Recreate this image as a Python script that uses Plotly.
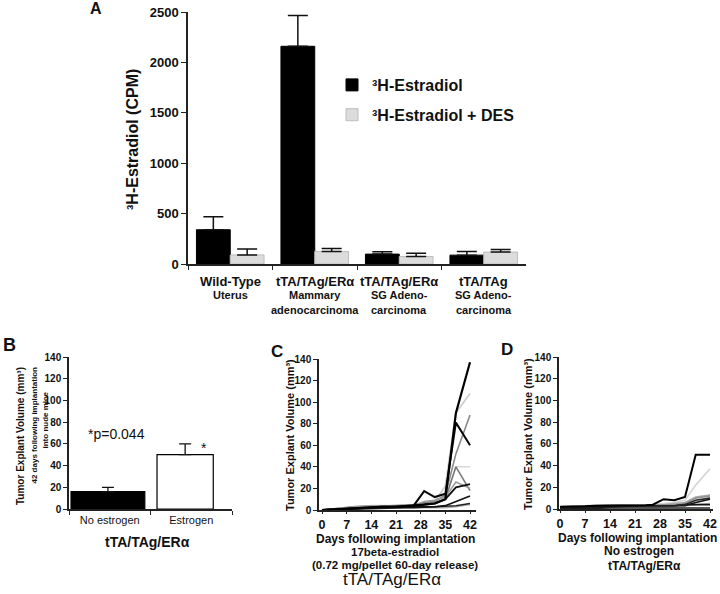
import plotly.graph_objects as go

# ---------------- DATA ----------------
# Panel A
catsA = ["Wild-Type", "tTA/TAg/ERα mammary", "tTA/TAg/ERα SG", "tTA/TAg SG"]
labA_line1 = ["Wild-Type", "tTA/TAg/ERα", "tTA/TAg/ERα", "tTA/TAg"]
labA_line2 = ["Uterus", "Mammary", "SG Adeno-", "SG Adeno-"]
labA_line3 = ["", "adenocarcinoma", "carcinoma", "carcinoma"]
estradiol = [340, 2160, 98, 88]
estradiol_err = [128, 305, 24, 36]
estradiol_des = [90, 125, 74, 118]
estradiol_des_err = [58, 28, 32, 27]
yticksA = [0, 500, 1000, 1500, 2000, 2500]

# Panel B
catsB = ["No estrogen", "Estrogen"]
volB = [16, 50]
volB_err = [4, 10]

# Panels C and D: days of measurement
days = [0, 3, 7, 10, 14, 17, 21, 24, 26, 29, 32, 35, 38, 42]
xticksCD = [0, 7, 14, 21, 28, 35, 42]
yticksCD = [0, 20, 40, 60, 80, 100, 120, 140]

# Panel C: 17beta-estradiol treated explants
c_lt_grey_107 = [0, 1, 2, 3, 4, 4, 4, 4, 5, 6, 8, 22, 90, 108]
c_grey_88 = [0, 1, 2, 3, 3, 3.5, 4, 4, 5, 7, 8, 14, 52, 88]
c_lt_grey_40 = [0, 1, 2, 3, 3, 3, 3, 3.5, 4, 6, 7, 12, 40, 40]
c_grey_40 = [0, 1, 2, 3, 3.5, 3.5, 4, 4, 4, 6, 7, 10, 40, 18]
c_grey_mid = [0, 1, 2.5, 3.5, 3.5, 3.5, 3.5, 3.5, 4, 8, 9, 12, 26, 20]
c_grey_5 = [0, 0.5, 1, 1.5, 2, 2, 2, 2, 2, 2, 2, 2, 3, 5]
c_black_137 = [0, 0.5, 1, 2, 2.5, 3, 3, 3.5, 4, 5, 6, 10, 90, 137]
c_black_81 = [0, 0.5, 1, 2, 2.5, 3, 3, 3.5, 4, 17.5, 12, 15, 81, 60]
c_black_24 = [0, 0.5, 1, 1.5, 2, 2.5, 3, 3, 3, 5, 6, 10, 21, 24]
c_black_13 = [0, 0.5, 1, 1.5, 2, 2.5, 3, 3, 3, 3, 3, 4, 8, 13]
c_black_low = [0, 0.3, 0.6, 1, 1.5, 2, 2, 2, 2, 2.5, 3, 3, 4, 6]

# Panel D: no estrogen
d_black_50 = [2, 2, 2.5, 3, 3, 3, 3, 3.5, 4, 9, 8, 11, 50, 50]
d_lt_grey_37 = [1, 1.5, 2, 2.5, 3, 3, 3, 3.5, 4, 5, 6, 8, 22, 37]
d_grey_13 = [2, 2.5, 3, 3.5, 4, 4, 4, 4, 4, 4, 5, 6, 11, 13]
d_grey_12 = [1, 1.5, 2, 2.5, 3, 3, 3, 3, 3, 4, 4, 5, 10, 12]
d_black_10 = [1, 1, 1.5, 2, 2, 2.5, 2.5, 3, 3, 3, 3, 4, 8, 10]
d_black_9 = [0, 0.5, 1, 1.5, 2, 2.5, 3, 3, 3, 3, 3, 3, 6, 9]
d_black_4 = [2, 2, 2, 2.5, 2.5, 3, 3, 3, 3, 3, 3, 4, 4, 4]
d_grey_5 = [1, 1, 1.5, 2, 2, 2, 2, 2, 2, 2, 3, 3, 4, 5]
d_black_low = [0, 0, 0.5, 0.5, 1, 1, 1, 1, 1, 1, 1, 1, 1, 1]

# ---------------- FIGURE ----------------
W, H = 720, 594
FONT = "Arial, Liberation Sans, sans-serif"


def fx(p):
    return p / W


def fy(p):
    return 1 - p / H


fig = go.Figure()

# Panel A bars
fig.add_trace(go.Bar(
    x=catsA, y=estradiol, name="³H-Estradiol",
    marker=dict(color="#000000", line=dict(color="#000000", width=1)),
    error_y=dict(type="data", array=estradiol_err, arrayminus=[0] * 4, symmetric=False,
                 color="#111111", thickness=1.5, width=10),
    xaxis="x", yaxis="y", legendgroup="a"))
fig.add_trace(go.Bar(
    x=catsA, y=estradiol_des, name="³H-Estradiol + DES",
    marker=dict(color="#dcdcdc", line=dict(color="#bdbdbd", width=1)),
    error_y=dict(type="data", array=estradiol_des_err, arrayminus=[0] * 4, symmetric=False,
                 color="#111111", thickness=1.5, width=10),
    xaxis="x", yaxis="y", legendgroup="b"))

# Panel B bars
fig.add_trace(go.Bar(
    x=catsB, y=volB, width=[0.905, 0.69], offset=[-0.475, -0.42],
    marker=dict(color=["#000000", "#ffffff"], line=dict(color="#000000", width=1.2)),
    error_y=dict(type="data", array=volB_err, arrayminus=[0, 0], symmetric=False,
                 color="#111111", thickness=1.3, width=6),
    xaxis="x2", yaxis="y2", showlegend=False))

# Panel C lines
c_series = [
    (c_lt_grey_107, "#d0d0d0", 1.8),
    (c_lt_grey_40, "#d8d8d8", 1.5),
    (c_grey_88, "#8a8a8a", 1.6),
    (c_grey_40, "#7a7a7a", 1.6),
    (c_grey_mid, "#9a9a9a", 1.5),
    (c_grey_5, "#b0b0b0", 1.5),
    (c_black_low, "#222222", 1.5),
    (c_black_13, "#111111", 1.7),
    (c_black_24, "#111111", 1.8),
    (c_black_81, "#0a0a0a", 2.0),
    (c_black_137, "#000000", 2.2),
]
for vals, col, wd in c_series:
    fig.add_trace(go.Scatter(x=days, y=vals, mode="lines", line=dict(color=col, width=wd),
                             xaxis="x3", yaxis="y3", showlegend=False))

# Panel D lines
d_series = [
    (d_lt_grey_37, "#d4d4d4", 1.6),
    (d_grey_13, "#a8a8a8", 1.5),
    (d_grey_12, "#909090", 1.5),
    (d_grey_5, "#b8b8b8", 1.5),
    (d_black_low, "#222222", 1.5),
    (d_black_4, "#111111", 1.6),
    (d_black_9, "#111111", 1.6),
    (d_black_10, "#222222", 1.6),
    (d_black_50, "#000000", 2.0),
]
for vals, col, wd in d_series:
    fig.add_trace(go.Scatter(x=days, y=vals, mode="lines", line=dict(color=col, width=wd),
                             xaxis="x4", yaxis="y4", showlegend=False))

axis_common = dict(showline=True, linecolor="#222222", linewidth=1.5, showgrid=False,
                   zeroline=False, ticks="outside", tickcolor="#222222", tickwidth=1.2,
                   automargin=False)

fig.update_layout(
    width=W, height=H, margin=dict(l=0, r=0, t=0, b=0, autoexpand=False),
    paper_bgcolor="white", plot_bgcolor="white",
    font=dict(family=FONT, color="#111111"),
    barmode="group", bargap=0.2, bargroupgap=0,
    showlegend=True,
    legend=dict(x=fx(332), y=fy(68), xanchor="left", yanchor="top",
                font=dict(size=16, weight="bold", family=FONT), bgcolor="rgba(0,0,0,0)",
                tracegroupgap=6, traceorder="grouped", itemwidth=30),
    # Panel A
    xaxis=dict(domain=[fx(188), fx(526)], anchor="y", type="category", tickson="boundaries",
               ticklen=4, showticklabels=False, **axis_common),
    yaxis=dict(domain=[fy(264), fy(12)], anchor="x", range=[0, 2500], tickvals=yticksA,
               ticklen=5, tickfont=dict(size=13, weight="bold", family=FONT), **axis_common),
    # Panel B
    xaxis2=dict(domain=[fx(69), fx(232)], anchor="y2", type="category", tickson="boundaries",
                ticklen=4, range=[-0.5, 1.5], tickfont=dict(size=11, family=FONT), **axis_common),
    yaxis2=dict(domain=[fy(509), fy(357)], anchor="x2", range=[0, 140], tickvals=yticksCD,
                ticklen=4, tickfont=dict(size=10, weight="bold", family=FONT), **axis_common),
    # Panel C
    xaxis3=dict(domain=[fx(319), fx(476)], anchor="y3", range=[-0.85, 43.7], tickvals=xticksCD,
                ticklen=2, tickfont=dict(size=12.5, weight="bold", family=FONT), **axis_common),
    yaxis3=dict(domain=[fy(510), fy(359)], anchor="x3", range=[0, 140], tickvals=yticksCD,
                ticklen=4, tickfont=dict(size=10, weight="bold", family=FONT), **axis_common),
    # Panel D
    xaxis4=dict(domain=[fx(559), fx(713)], anchor="y4", range=[-0.28, 42.84], tickvals=xticksCD,
                ticklen=2, tickfont=dict(size=12.5, weight="bold", family=FONT), **axis_common),
    yaxis4=dict(domain=[fy(509), fy(357)], anchor="x4", range=[0, 140], tickvals=yticksCD,
                ticklen=4, tickfont=dict(size=10, weight="bold", family=FONT), **axis_common),
)

ann = []


def txt(text, x, y, size, bold=True, angle=0, xref="paper", xa="center"):
    ann.append(dict(text=text, x=x if xref != "paper" else fx(x), y=fy(y), xref=xref, yref="paper",
                    showarrow=False, xanchor=xa, yanchor="middle", textangle=angle,
                    font=dict(size=size, family=FONT, color="#111111",
                              weight="bold" if bold else "normal")))


# Panel letters
txt("A", 96, 9, 16)
txt("B", 9, 345, 18)
txt("C", 277, 351, 17)
txt("D", 507, 349, 17)

# Panel A category labels
for c, l1, l2, l3 in zip(catsA, labA_line1, labA_line2, labA_line3):
    txt(l1, c, 282, 13, xref="x")
    txt(l2, c, 295, 11, xref="x")
    if l3:
        txt(l3, c, 310, 11, xref="x")
txt("³H-Estradiol (CPM)", 132, 140, 16, angle=-90)

# Panel B
txt("Tumor Explant Volume (mm³)", 20, 436, 10, angle=-90)
txt("42 days following implantation", 33.5, 425, 8, angle=-90)
txt("into nude mice", 44.5, 420, 8, angle=-90)
txt("*p=0.044", 116, 434, 14, bold=False)
txt("*", 204, 448, 14, bold=False)
txt("tTA/TAg/ERα", 147, 542, 14)

# Panel C
txt("Tumor Explant Volume (mm³)", 290, 435, 11, angle=-90)
txt("Days following implantation", 395, 538.5, 12)
txt("17beta-estradiol", 395, 552, 11.5)
txt("(0.72 mg/pellet 60-day release)", 395, 565, 11.5)
txt("tTA/TAg/ERα", 392, 579, 17, bold=False)

# Panel D
txt("Tumor Explant Volume (mm³)", 528, 434, 11, angle=-90)
txt("Days following implantation", 637, 538, 12)
txt("No estrogen", 639, 551, 12)
txt("tTA/TAg/ERα", 644, 565.5, 12)

fig.update_layout(annotations=ann)
fig.write_html("out.html", config={"displayModeBar": False},
               post_script="document.body.style.margin='0';document.body.style.overflow='hidden';")
